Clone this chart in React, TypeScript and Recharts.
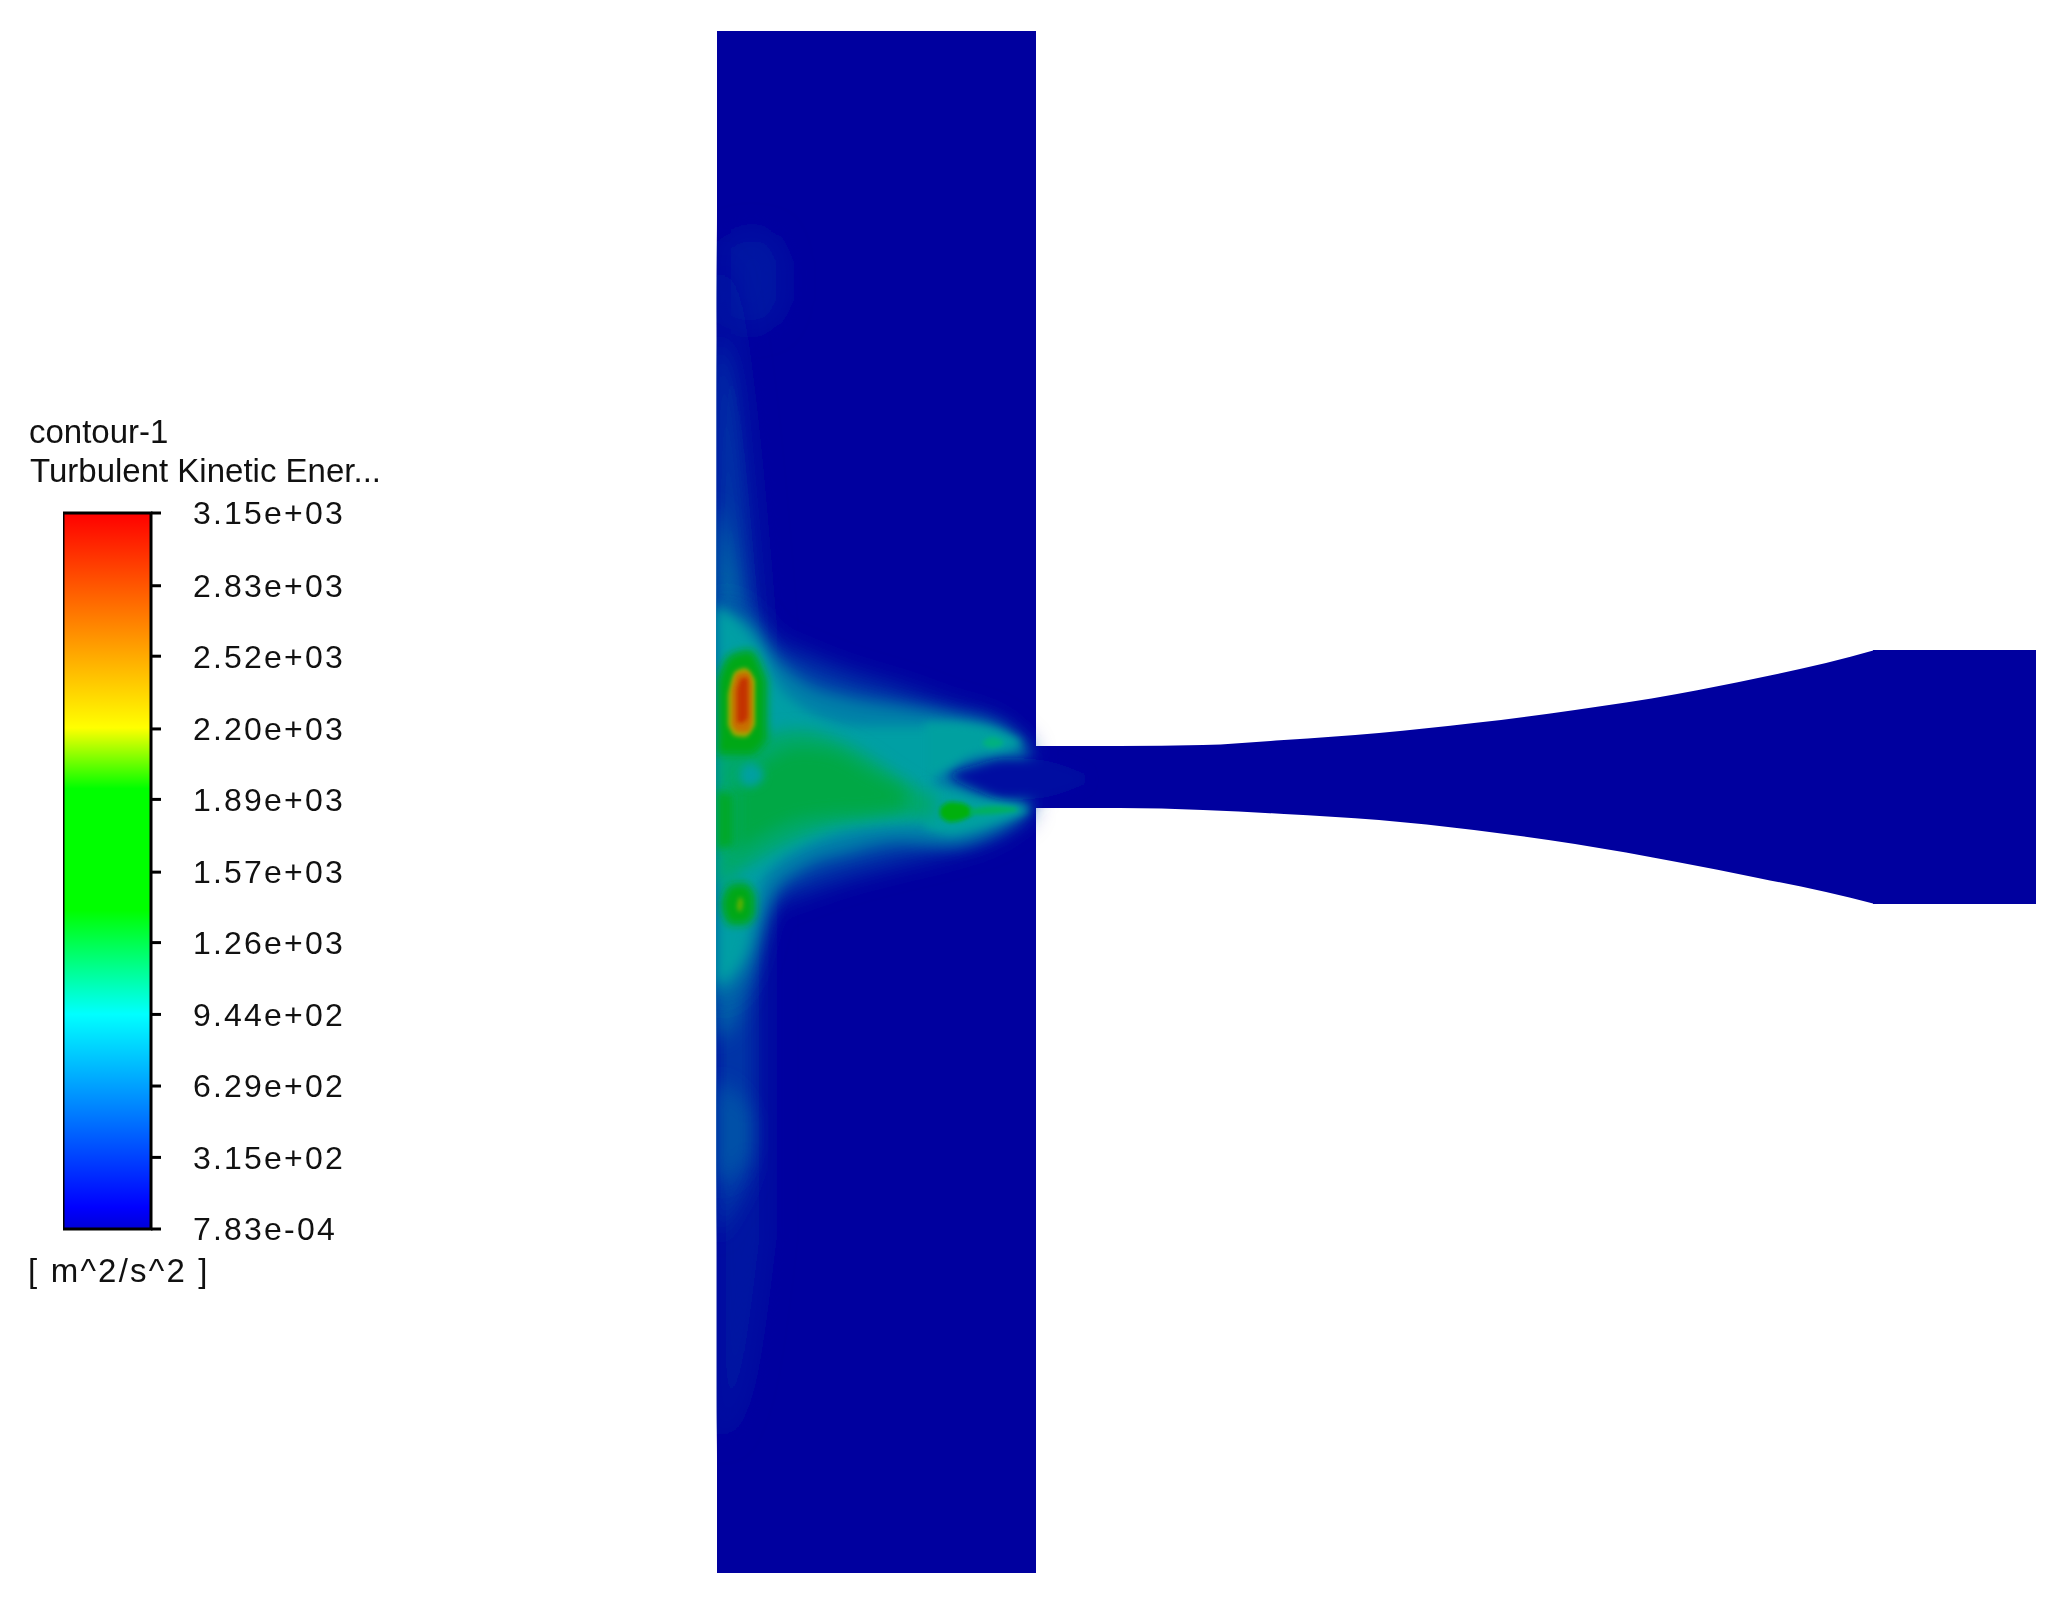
import React from "react";
import { ComposedChart, Area, Bar, XAxis, YAxis } from "recharts";

type P = [number, number, number];
const rows = (pts: P[]) => pts.map(([x, lo, hi]) => ({ x, range: [lo, hi] }));

// geometry: [x, top, bottom]
const plenum: P[] = [[717, 31, 1573], [1036, 31, 1573]];
const nozzle: P[] = [
  [1030, 746, 808], [1120, 746, 808], [1203, 745, 810], [1284, 740, 814], [1379, 733, 820], [1474, 723, 830], [1575, 710, 844],
  [1677, 694, 862], [1758, 678, 878], [1826, 663, 892], [1875, 650, 904],
];
const nozzleFlat: P[] = [[1873, 650, 904], [2036, 650, 904]];

// contour bands of turbulent kinetic energy: [x, top, bottom]
const plumeTopFaint: P[] = [[722, 245, 320], [745, 232, 330], [770, 235, 325], [785, 262, 300]];
const plumeFaint: P[] = [[717, 260, 1440], [735, 310, 1420], [750, 420, 1370], [768, 620, 1240]];
const plumeMid: P[] = [[717, 340, 1240], [730, 380, 1215], [742, 500, 1195], [752, 610, 1170]];
const plumeStrong: P[] = [[717, 500, 1040], [728, 540, 1030], [738, 590, 1010], [748, 640, 980]];
const plumeBulge: P[] = [[717, 1080, 1185], [730, 1088, 1178], [742, 1100, 1165], [750, 1115, 1150]];
const fanHalo: P[] = [
  [717, 600, 1005], [750, 615, 970], [770, 640, 905], [800, 655, 892], [850, 675, 875], [900, 690, 862],
  [950, 708, 850], [1000, 725, 832], [1028, 750, 812],
];
const fanHaloInner: P[] = [
  [717, 610, 1000], [750, 622, 965], [775, 658, 892], [800, 680, 870], [850, 698, 852], [900, 706, 842],
  [950, 714, 845], [1000, 726, 830], [1025, 744, 815],
];
const notch: P[] = [[950, 773, 778], [975, 765, 790], [1005, 758, 800], [1040, 760, 798], [1085, 774, 784]];
const tealBody: P[] = [
  [717, 605, 985], [745, 630, 952], [760, 650, 885], [777, 684, 863], [800, 706, 848], [830, 720, 836], [867, 726, 828], [935, 726, 824],
];
const tealUpper: P[] = [[925, 724, 778], [945, 722, 770], [970, 724, 756], [1000, 731, 751], [1020, 741, 746]];
const tealLower: P[] = [[925, 785, 828], [950, 790, 834], [975, 798, 829], [1000, 802, 821], [1028, 808, 812]];
const greenBody: P[] = [[717, 750, 890], [750, 738, 865], [800, 730, 838], [833, 738, 826], [867, 755, 820], [900, 778, 816], [935, 798, 818]];
const greenCore: P[] = [[735, 790, 852], [800, 748, 818], [833, 752, 814], [870, 772, 812], [905, 790, 808]];
const wallGreen: P[] = [[717, 790, 850], [733, 795, 845]];
const topGreen: P[] = [[717, 680, 755], [730, 655, 755], [750, 650, 755], [767, 680, 740]];
const bottomGreen: P[] = [[722, 900, 910], [730, 885, 925], [745, 883, 925], [755, 895, 915]];
const coolSpot: P[] = [[740, 770, 782], [750, 763, 787], [763, 770, 780]];
const hotYellow: P[] = [[728, 695, 725], [735, 672, 736], [745, 668, 737], [755, 680, 725]];
const hotOrange: P[] = [[732, 690, 725], [738, 673, 732], [748, 672, 732], [752, 685, 722]];
const hotRed: P[] = [[737, 690, 722], [742, 678, 723], [748, 678, 718]];
const bottomStreak: P[] = [[737, 905, 908], [740, 897, 912], [743, 900, 906]];
const prongGreen: P[] = [[940, 808, 816], [950, 802, 822], [962, 803, 820], [972, 809, 815]];
const prongStreak: P[] = [[970, 809, 815], [995, 806, 814], [1017, 808, 811]];
const upperSpot: P[] = [[983, 741, 745], [992, 737, 748], [1003, 741, 745]];
const leftMask: P[] = [[600, 0, 1604], [716, 0, 1604]];

const contourBands: { id: string; pts: P[]; fill: string; blur: string }[] = [
  { id: "plumeTopFaint", pts: plumeTopFaint, fill: "#0016a3", blur: "b12" },
  { id: "plumeFaint", pts: plumeFaint, fill: "#0012a2", blur: "b12" },
  { id: "plumeMid", pts: plumeMid, fill: "#0038a7", blur: "b10" },
  { id: "plumeBulge", pts: plumeBulge, fill: "#0052a8", blur: "b10" },
  { id: "plumeStrong", pts: plumeStrong, fill: "#0070a8", blur: "b10" },
  { id: "fanHalo", pts: fanHalo, fill: "#0040a8", blur: "b12" },
  { id: "fanHaloInner", pts: fanHaloInner, fill: "#0080a8", blur: "b8" },
  { id: "notch", pts: notch, fill: "#0010a1", blur: "b6" },
  { id: "tealBody", pts: tealBody, fill: "#009fa4", blur: "b6" },
  { id: "tealUpper", pts: tealUpper, fill: "#00a0a0", blur: "b4" },
  { id: "tealLower", pts: tealLower, fill: "#00a0a0", blur: "b4" },
  { id: "greenBody", pts: greenBody, fill: "#00a86a", blur: "b8" },
  { id: "greenCore", pts: greenCore, fill: "#00a845", blur: "b8" },
  { id: "wallGreen", pts: wallGreen, fill: "#00a828", blur: "b4" },
  { id: "topGreen", pts: topGreen, fill: "#00a818", blur: "b4" },
  { id: "bottomGreen", pts: bottomGreen, fill: "#00a818", blur: "b4" },
  { id: "coolSpot", pts: coolSpot, fill: "#00a0a0", blur: "b4" },
  { id: "hotYellow", pts: hotYellow, fill: "#9fa800", blur: "b2" },
  { id: "hotOrange", pts: hotOrange, fill: "#c87000", blur: "b2" },
  { id: "hotRed", pts: hotRed, fill: "#c43000", blur: "b2" },
  { id: "bottomStreak", pts: bottomStreak, fill: "#60b000", blur: "b2" },
  { id: "prongGreen", pts: prongGreen, fill: "#00b010", blur: "b2" },
  { id: "prongStreak", pts: prongStreak, fill: "#00b060", blur: "b2" },
  { id: "upperSpot", pts: upperSpot, fill: "#00b080", blur: "b2" },
];

const blurs: [string, number][] = [["b2", 2], ["b4", 4], ["b6", 6], ["b8", 8], ["b10", 10], ["b12", 13]];

// colour bar
const colorTicks = [7.83e-4, 315, 629, 944, 1260, 1570, 1890, 2200, 2520, 2830, 3150];
const colorData = [{ name: "tke", span: [7.83e-4, 3150] }];
const colorStops: [number, string][] = [
  [0, "#ff0000"], [0.3, "#ffff00"], [0.385, "#00ff00"], [0.555, "#00ff00"], [0.7, "#00ffff"], [0.97, "#0000ff"], [1, "#0000d8"],
];
const titleLines = ["contour-1", "Turbulent Kinetic Ener..."];
const unitsLabel = "[ m^2/s^2 ]";

const fmt = (v: number) => {
  const [m, e] = v.toExponential(2).split("e");
  const sign = e[0] === "-" ? "-" : "+";
  return `${m}e${sign}${e.slice(1).padStart(2, "0")}`;
};

const textStyle: React.CSSProperties = {
  position: "absolute",
  fontFamily: "'Liberation Sans', Arial, sans-serif",
  fontSize: 33,
  color: "#111",
  whiteSpace: "pre",
  lineHeight: "36px",
};

export default function App() {
  return (
    <div style={{ position: "absolute", left: 0, top: 0, width: 2062, height: 1604, background: "#fff", filter: "blur(0.6px)", overflow: "hidden" }}>
      <div style={{ position: "absolute", left: 0, top: 0 }}>
        <ComposedChart width={2062} height={1604} margin={{ top: 0, right: 0, bottom: 0, left: 0 }}>
          <defs>
            {blurs.map(([id, s]) => (
              <filter key={id} id={id} filterUnits="userSpaceOnUse" x={0} y={0} width={2062} height={1604}>
                <feGaussianBlur stdDeviation={s} />
              </filter>
            ))}
          </defs>
          <XAxis type="number" dataKey="x" domain={[0, 2062]} hide allowDataOverflow />
          <YAxis type="number" domain={[0, 1604]} reversed hide allowDataOverflow />
          <Area data={rows(plenum)} dataKey="range" type="linear" fill="#00009f" fillOpacity={1} stroke="none" isAnimationActive={false} dot={false} activeDot={false} />
          <Area data={rows(nozzle)} dataKey="range" type="monotone" fill="#00009f" fillOpacity={1} stroke="none" isAnimationActive={false} dot={false} activeDot={false} />
          <Area data={rows(nozzleFlat)} dataKey="range" type="linear" fill="#00009f" fillOpacity={1} stroke="none" isAnimationActive={false} dot={false} activeDot={false} />
          {contourBands.map((b) => (
            <Area
              key={b.id}
              data={rows(b.pts)}
              dataKey="range"
              type="monotone"
              fill={b.fill}
              fillOpacity={1}
              stroke="none"
              filter={`url(#${b.blur})`}
              isAnimationActive={false}
              dot={false}
              activeDot={false}
            />
          ))}
          <Area data={rows(leftMask)} dataKey="range" type="linear" fill="#fff" fillOpacity={1} stroke="none" isAnimationActive={false} dot={false} activeDot={false} />
        </ComposedChart>
      </div>

      <div style={{ position: "absolute", left: 63, top: 483 }}>
        <ComposedChart width={340} height={776} data={colorData} margin={{ top: 30, right: 0, bottom: 30, left: 0 }} barCategoryGap={0}>
          <defs>
            <linearGradient id="cbar" x1="0" y1="0" x2="0" y2="1">
              {colorStops.map(([o, c]) => (
                <stop key={o} offset={o} stopColor={c} />
              ))}
            </linearGradient>
          </defs>
          <XAxis dataKey="name" hide />
          <YAxis
            orientation="right"
            type="number"
            domain={[7.83e-4, 3150]}
            ticks={colorTicks}
            interval={0}
            width={252}
            axisLine={{ stroke: "#000", strokeWidth: 2 }}
            tickLine={{ stroke: "#000", strokeWidth: 3 }}
            tickSize={10}
            tickMargin={32}
            tickFormatter={fmt}
            tick={{ fill: "#111", fontSize: 32, fontFamily: "'Liberation Sans', Arial, sans-serif", letterSpacing: 2.2, textAnchor: "start" }}
          />
          <Bar dataKey="span" fill="url(#cbar)" stroke="#000" strokeWidth={3} isAnimationActive={false} />
        </ComposedChart>
      </div>

      <div style={{ ...textStyle, left: 29, top: 414 }}>{titleLines[0]}</div>
      <div style={{ ...textStyle, left: 30, top: 453 }}>{titleLines[1]}</div>
      <div style={{ ...textStyle, left: 28, top: 1253, letterSpacing: 2.2 }}>{unitsLabel}</div>
    </div>
  );
}
